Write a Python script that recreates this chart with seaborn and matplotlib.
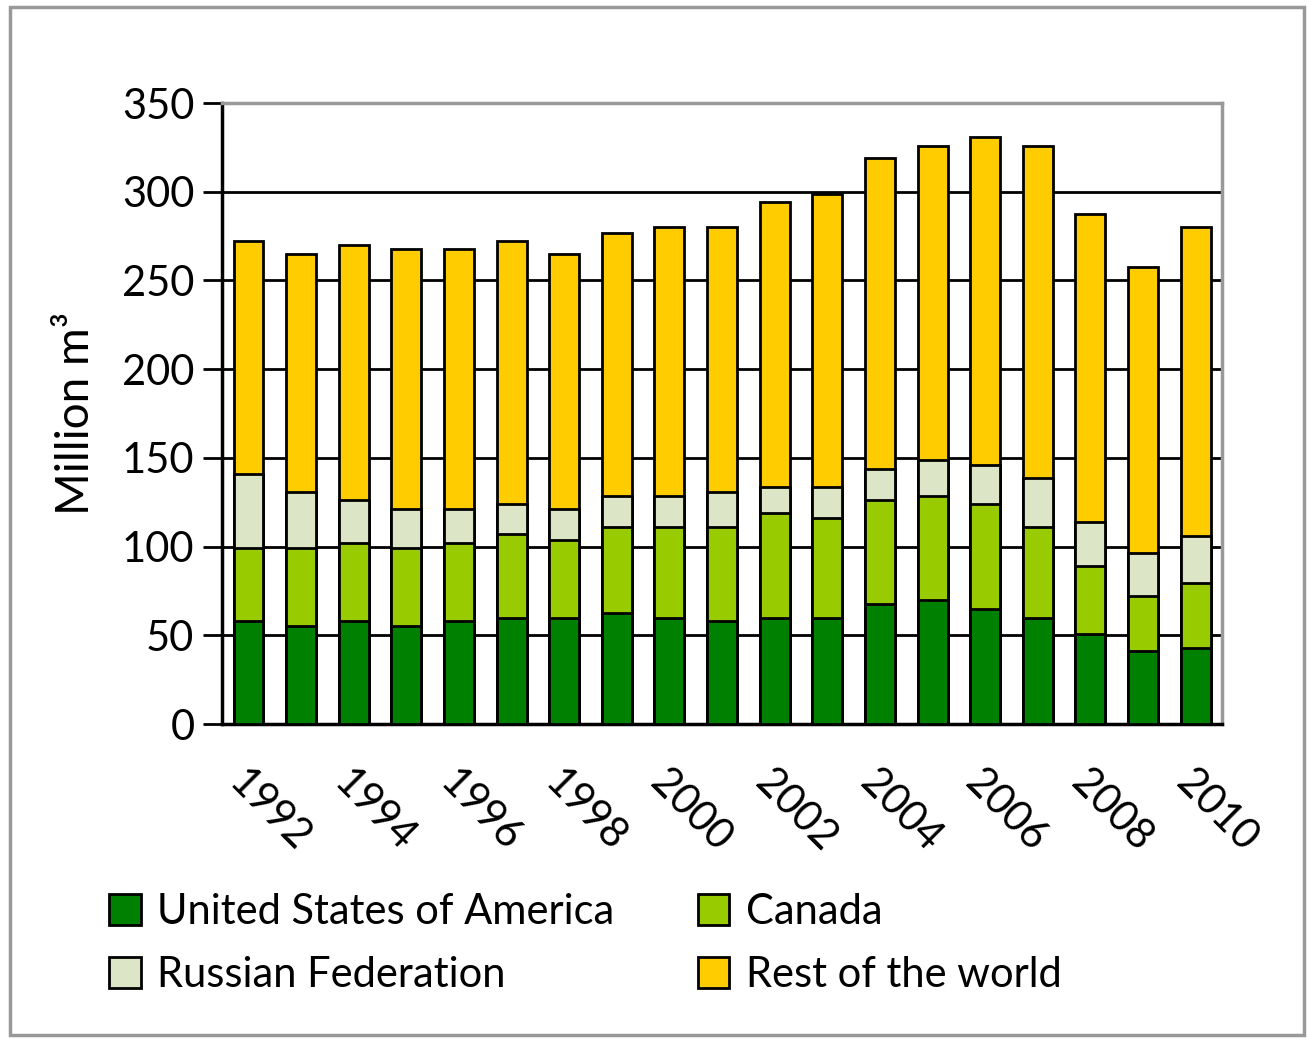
import matplotlib
matplotlib.use('Agg')
import matplotlib.pyplot as plt
import pandas as pd
import seaborn as sns
from matplotlib.patches import Patch, Rectangle

# Dados (milhões de m3)
anos = [str(a) for a in range(1992, 2011)]
usa = [58, 55, 58, 55, 58, 60, 60, 62.5, 60, 58, 60, 60, 67.5, 70, 65, 60, 51, 41, 43]
canada = [41, 44, 44, 44, 44, 47, 44, 48.5, 51, 53, 59, 56, 58.5, 58.5, 59, 51, 38, 31, 36.5]
russia = [42, 32, 24, 22, 19, 17, 17, 17.5, 17.5, 20, 14.5, 17.5, 18, 20.5, 22, 27.5, 25, 24.5, 26.5]
resto = [131, 134, 144, 147, 147, 148, 144, 148.5, 151.5, 149, 160.5, 165.5, 175, 177, 185, 187.5, 173.5, 161, 174]

series = ['United States of America', 'Canada', 'Russian Federation', 'Rest of the world']
cores = ['#008000', '#99CC00', '#DCE6C6', '#FFCC00']

sns.set_style('white')
plt.rcParams['font.family'] = ['Lato', 'DejaVu Sans']
plt.rcParams['font.weight'] = 'normal'
plt.rcParams['text.color'] = 'black'
plt.rcParams['axes.labelcolor'] = 'black'
plt.rcParams['xtick.color'] = 'black'
plt.rcParams['ytick.color'] = 'black'

dados = pd.DataFrame({'ano': anos, 'usa': usa, 'canada': canada,
                      'russia': russia, 'resto': resto})
acum = dados[['usa', 'canada', 'russia', 'resto']].cumsum(axis=1)

fig = plt.figure(figsize=(13.07, 10.41), dpi=100)
ax = fig.add_axes([0.170, 0.3045, 0.765, 0.5965])

# barras empilhadas: desenha do topo para a base
for col, cor in zip(['resto', 'russia', 'canada', 'usa'], cores[::-1]):
    sns.barplot(x=dados['ano'], y=acum[col], color=cor, saturation=1,
                edgecolor='black', linewidth=2, width=0.57, ax=ax, zorder=3)

ax.set_ylim(0, 350)
ax.set_xlim(-0.5, len(anos) - 0.5)
ax.set_yticks(range(0, 351, 50))
ax.yaxis.grid(True, color='black', linewidth=2, zorder=0)
ax.set_axisbelow(True)

ax.set_xticks(range(0, len(anos), 2))
ax.set_xticklabels(anos[::2], rotation=-45, ha='left', va='top',
                   rotation_mode='anchor', fontsize=30)
ax.set_xticks([i - 0.5 for i in range(len(anos) + 1)], minor=True)
ax.tick_params(axis='x', which='major', length=0, pad=28)
ax.tick_params(axis='x', which='minor', length=12, width=2, color='black', direction='out')
ax.tick_params(axis='y', labelsize=30, length=14, width=2, direction='out', pad=6, left=True)

for s in ['left', 'bottom']:
    ax.spines[s].set_color('black')
    ax.spines[s].set_linewidth(2.5)
for s in ['top', 'right']:
    ax.spines[s].set_color('#999999')
    ax.spines[s].set_linewidth(2.5)

ax.set_xlabel('')
ax.set_ylabel('Million m³', fontsize=33, labelpad=18)

# ordem da legenda: linhas USA/Canada e Russia/Resto
ordem = [0, 2, 1, 3]
handles = [Patch(facecolor=cores[i], edgecolor='black', linewidth=2) for i in ordem]
fig.legend(handles, [series[i] for i in ordem], loc='upper left',
           bbox_to_anchor=(0.071, 0.158), ncol=2, frameon=False, fontsize=30,
           handlelength=0.75, handleheight=0.75, handletextpad=0.4,
           columnspacing=2.0, labelspacing=0.6, borderaxespad=0)

# moldura externa
fig.patches.append(Rectangle((0.008, 0.006), 0.99, 0.987, transform=fig.transFigure,
                             fill=False, edgecolor='#999999', linewidth=2.5))

fig.savefig('out.png', dpi=100)
plt.close()
